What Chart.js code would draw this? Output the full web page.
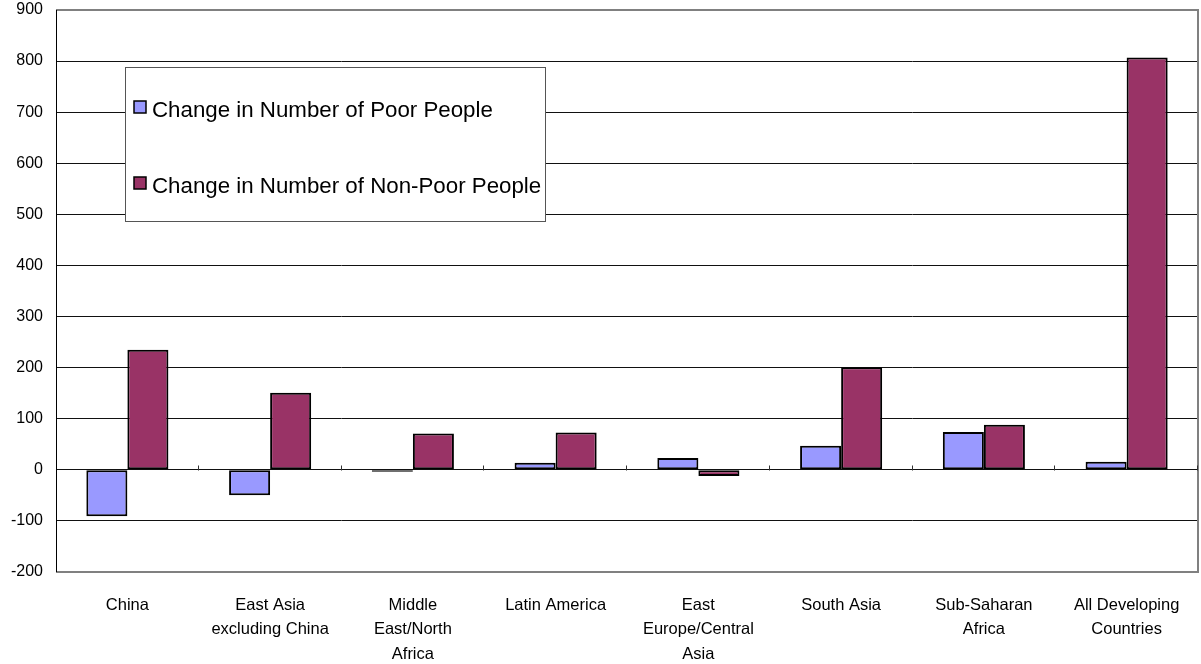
<!DOCTYPE html>
<html>
<head>
<meta charset="utf-8">
<script src="https://cdn.jsdelivr.net/npm/chart.js@4.4.1/dist/chart.umd.min.js"></script>
<style>
  html, body { margin: 0; padding: 0; background: #fff; }
  #wrap { width: 1201px; height: 664px; position: relative; }
</style>
</head>
<body>
<div id="wrap"><canvas id="chart"></canvas></div>
<script>
const regions = [
    "China",
    ["East Asia", "excluding China"],
    ["Middle", "East/North", "Africa"],
    "Latin America",
    ["East", "Europe/Central", "Asia"],
    "South Asia",
    ["Sub-Saharan", "Africa"],
    ["All Developing", "Countries"]
];
const poorChange = [-91, -50, -4, 14, 23, 47, 74, 16];
const nonPoorChange = [235, 151, 71, 73, -12, 201, 88, 807];
const seriesNames = ["Change in Number of Poor People", "Change in Number of Non-Poor People"];
const seriesColors = ["#9999FF", "#993366"];
const yTicks = [-200, -100, 0, 100, 200, 300, 400, 500, 600, 700, 800, 900];

// frame, category ticks on the zero line and the boxed legend
const excelBits = {
    id: "excelBits",
    afterDatasetsDraw(chart) {
        const { ctx, chartArea: a, scales } = chart;
        const x = scales.x, y = scales.y;
        ctx.save();
        // gray plot border on top/right/bottom
        ctx.strokeStyle = "#808080";
        ctx.lineWidth = 2;
        ctx.beginPath();
        ctx.moveTo(a.left, a.top);
        ctx.lineTo(a.right, a.top);
        ctx.lineTo(a.right, a.bottom);
        ctx.lineTo(a.left, a.bottom);
        ctx.stroke();
        // left axis
        ctx.strokeStyle = "#000";
        ctx.lineWidth = 1;
        ctx.beginPath();
        ctx.moveTo(a.left + 0.5, a.top);
        ctx.lineTo(a.left + 0.5, a.bottom);
        ctx.stroke();
        // category boundary ticks on the zero line
        const zero = Math.round(y.getPixelForValue(0)) + 0.5;
        const step = (x.right - x.left) / regions.length;
        ctx.strokeStyle = "#333";
        ctx.beginPath();
        for (let i = 1; i <= regions.length; i++) {
            const px = Math.round(x.left + step * i) - 0.5;
            ctx.moveTo(px, zero);
            ctx.lineTo(px, zero - 5);
        }
        ctx.stroke();
        // legend box
        const bx = 125.5, by = 67.5, bw = 420, bh = 154;
        ctx.fillStyle = "#fff";
        ctx.fillRect(bx, by, bw, bh);
        ctx.strokeStyle = "#555";
        ctx.lineWidth = 1;
        ctx.strokeRect(bx, by, bw, bh);
        ctx.font = "22.3px 'Liberation Sans', Arial, sans-serif";
        ctx.textBaseline = "middle";
        ctx.textAlign = "left";
        const rows = [107, 183];
        chart.data.datasets.forEach((ds, i) => {
            ctx.fillStyle = ds.backgroundColor;
            ctx.fillRect(134, rows[i] - 6, 12, 12);
            ctx.strokeStyle = "#000";
            ctx.lineWidth = 1.5;
            ctx.strokeRect(134, rows[i] - 6, 12, 12);
            ctx.fillStyle = "#000";
            ctx.fillText(ds.label, 152, rows[i] + 4);
        });
        ctx.restore();
    }
};

const ctx = document.getElementById("chart").getContext("2d");
new Chart(ctx, {
    type: "bar",
    data: {
        labels: regions,
        datasets: [
            {
                label: seriesNames[0],
                data: poorChange,
                backgroundColor: seriesColors[0],
                borderColor: "#000",
                borderWidth: 2,
                borderSkipped: false
            },
            {
                label: seriesNames[1],
                data: nonPoorChange,
                backgroundColor: seriesColors[1],
                borderColor: "#000",
                borderWidth: 2,
                borderSkipped: false
            }
        ]
    },
    options: {
        responsive: true,
        maintainAspectRatio: false,
        animation: false,
        layout: { padding: { top: 10, right: 3, left: 0, bottom: 0 } },
        datasets: {
            bar: { categoryPercentage: 0.575, barPercentage: 1.0 }
        },
        plugins: {
            legend: { display: false },
            tooltip: { enabled: false }
        },
        scales: {
            x: {
                grid: { display: false },
                border: { display: false },
                ticks: {
                    color: "#000",
                    font: { family: "'Liberation Sans', Arial, sans-serif", size: 16.5, lineHeight: 1.48 },
                    padding: 13,
                    maxRotation: 0,
                    autoSkip: false
                },
                afterFit(scale) {
                    scale.height = 92;
                    scale.paddingLeft = 0;
                    scale.paddingRight = 0;
                }
            },
            y: {
                min: -200,
                max: 900,
                afterBuildTicks(scale) { scale.ticks = yTicks.map(v => ({ value: v })); },
                grid: { color: "#111", lineWidth: 1, drawTicks: false },
                border: { display: false },
                ticks: {
                    color: "#000",
                    font: { family: "'Liberation Sans', Arial, sans-serif", size: 16 },
                    padding: 13
                },
                afterFit(scale) {
                    scale.width = 56;
                    scale.paddingTop = 0;
                    scale.paddingBottom = 0;
                }
            }
        }
    },
    plugins: [excelBits]
});
</script>
</body>
</html>
